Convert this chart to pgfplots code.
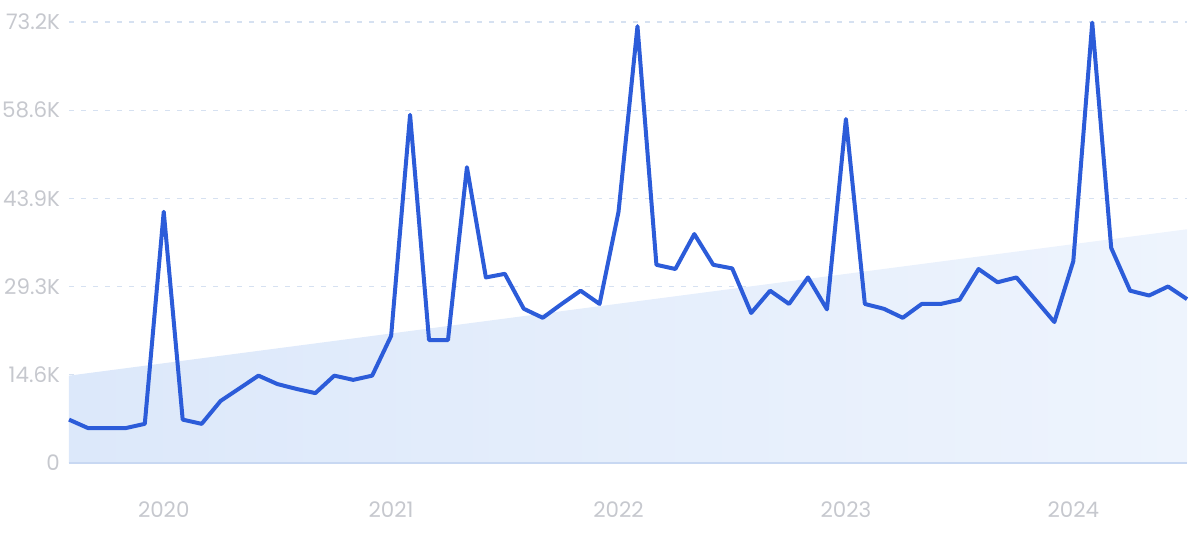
\documentclass[border=0pt]{standalone}
\usepackage{pgfplots}
\pgfplotsset{compat=1.18}
\usepackage{fontspec}
\setmainfont{Poppins}
\definecolor{linec}{RGB}{44,92,217}
\definecolor{gridc}{RGB}{214,225,241}
\definecolor{labc}{RGB}{198,200,206}
\definecolor{areaL}{RGB}{220,232,250}
\definecolor{areaR}{RGB}{238,244,253}
\definecolor{basec}{RGB}{200,216,242}
\begin{document}
\begin{tikzpicture}
\path[use as bounding box] (-34.5pt,-47.5pt) rectangle (565.5pt,231.5pt);
\begin{axis}[
  at={(0,0)}, anchor=south west,
  scale only axis, width=559pt, height=220.5pt,
  xmin=0, xmax=59, ymin=0, ymax=73.2,
  clip=false,
  axis line style={draw=none},
  tick style={draw=none},
  xtick={5,17,29,41,53},
  xticklabels={2020,2021,2022,2023,2024},
  ytick={0,14.64,29.28,43.92,58.56,73.2},
  yticklabels={0,14.6K,29.3K,43.9K,58.6K,73.2K},
  ymajorgrids,
  major grid style={gridc, dash pattern=on 2.5pt off 3.5pt, line width=0.6pt},
  ticklabel style={font=\fontsize{10.7}{12}\selectfont, text=labc},
  /pgf/number format/assume math mode=true,
  xticklabel style={yshift=-16pt},
  yticklabel style={xshift=-1pt},
]
\addplot[draw=none, left color=areaL, right color=areaR] coordinates {(0,14.5) (59,38.8)} \closedcycle;
\draw[basec, line width=0.8pt] (axis cs:0,0) -- (axis cs:59,0);
\addplot[linec, line width=2pt, line join=round, mark=none] coordinates {
(0,7.2) (1,5.8) (2,5.8) (3,5.8) (4,6.5) (5,41.7) (6,7.2) (7,6.5) (8,10.3) (9,12.4)
(10,14.5) (11,13.1) (12,12.3) (13,11.6) (14,14.5) (15,13.8) (16,14.5) (17,21.1) (18,57.8) (19,20.4)
(20,20.4) (21,49.1) (22,30.8) (23,31.4) (24,25.6) (25,24.1) (26,26.4) (27,28.6) (28,26.4) (29,41.7)
(30,72.5) (31,32.9) (32,32.2) (33,38.0) (34,32.9) (35,32.3) (36,24.9) (37,28.6) (38,26.4) (39,30.8)
(40,25.5) (41,57.1) (42,26.4) (43,25.6) (44,24.1) (45,26.4) (46,26.4) (47,27.1) (48,32.2) (49,30.0)
(50,30.8) (51,27.1) (52,23.4) (53,33.5) (54,73.1) (55,35.7) (56,28.6) (57,27.8) (58,29.3) (59,27.2)
};
\end{axis}
\end{tikzpicture}
\end{document}
